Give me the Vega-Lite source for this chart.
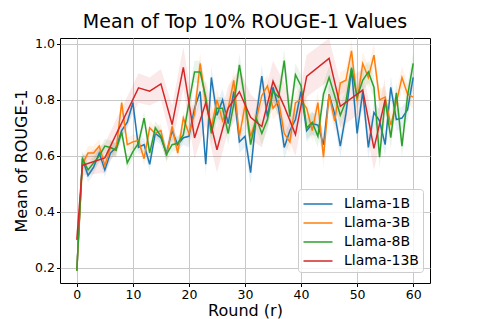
{
"$schema": "https://vega.github.io/schema/vega-lite/v6.json",
"width": 370, "height": 245,
"autosize": "none",
"padding": {"left": 60, "top": 38, "right": 48, "bottom": 36},
"config": {"font": "DejaVu Sans", "view": {"stroke": "#000", "strokeWidth": 1}},
"title": {"text": "Mean of Top 10% ROUGE-1 Values", "fontSize": 19, "fontWeight": "normal", "color": "#000", "offset": 6, "anchor": "middle"},
"data": {"values": [
{"m":"Llama-1B","r":0,"v":0.19,"lo":0.17,"hi":0.21},
{"m":"Llama-1B","r":1,"v":0.59,"lo":0.565,"hi":0.615},
{"m":"Llama-1B","r":2,"v":0.53,"lo":0.505,"hi":0.555},
{"m":"Llama-1B","r":3,"v":0.56,"lo":0.535,"hi":0.585},
{"m":"Llama-1B","r":4,"v":0.61,"lo":0.585,"hi":0.635},
{"m":"Llama-1B","r":5,"v":0.55,"lo":0.525,"hi":0.575},
{"m":"Llama-1B","r":6,"v":0.61,"lo":0.585,"hi":0.635},
{"m":"Llama-1B","r":7,"v":0.63,"lo":0.605,"hi":0.655},
{"m":"Llama-1B","r":8,"v":0.69,"lo":0.665,"hi":0.715},
{"m":"Llama-1B","r":9,"v":0.72,"lo":0.695,"hi":0.745},
{"m":"Llama-1B","r":10,"v":0.79,"lo":0.765,"hi":0.815},
{"m":"Llama-1B","r":11,"v":0.63,"lo":0.605,"hi":0.655},
{"m":"Llama-1B","r":12,"v":0.64,"lo":0.615,"hi":0.665},
{"m":"Llama-1B","r":13,"v":0.57,"lo":0.545,"hi":0.595},
{"m":"Llama-1B","r":14,"v":0.68,"lo":0.655,"hi":0.705},
{"m":"Llama-1B","r":15,"v":0.665,"lo":0.64,"hi":0.69},
{"m":"Llama-1B","r":16,"v":0.61,"lo":0.585,"hi":0.635},
{"m":"Llama-1B","r":17,"v":0.69,"lo":0.665,"hi":0.715},
{"m":"Llama-1B","r":18,"v":0.64,"lo":0.615,"hi":0.665},
{"m":"Llama-1B","r":19,"v":0.665,"lo":0.64,"hi":0.69},
{"m":"Llama-1B","r":20,"v":0.67,"lo":0.63,"hi":0.71},
{"m":"Llama-1B","r":21,"v":0.77,"lo":0.73,"hi":0.81},
{"m":"Llama-1B","r":22,"v":0.83,"lo":0.79,"hi":0.87},
{"m":"Llama-1B","r":23,"v":0.57,"lo":0.53,"hi":0.61},
{"m":"Llama-1B","r":24,"v":0.88,"lo":0.84,"hi":0.92},
{"m":"Llama-1B","r":25,"v":0.745,"lo":0.705,"hi":0.785},
{"m":"Llama-1B","r":26,"v":0.80,"lo":0.76,"hi":0.84},
{"m":"Llama-1B","r":27,"v":0.715,"lo":0.675,"hi":0.755},
{"m":"Llama-1B","r":28,"v":0.83,"lo":0.79,"hi":0.87},
{"m":"Llama-1B","r":29,"v":0.65,"lo":0.61,"hi":0.69},
{"m":"Llama-1B","r":30,"v":0.67,"lo":0.63,"hi":0.71},
{"m":"Llama-1B","r":31,"v":0.54,"lo":0.50,"hi":0.58},
{"m":"Llama-1B","r":32,"v":0.74,"lo":0.70,"hi":0.78},
{"m":"Llama-1B","r":33,"v":0.885,"lo":0.845,"hi":0.925},
{"m":"Llama-1B","r":34,"v":0.74,"lo":0.70,"hi":0.78},
{"m":"Llama-1B","r":35,"v":0.845,"lo":0.805,"hi":0.885},
{"m":"Llama-1B","r":36,"v":0.77,"lo":0.73,"hi":0.81},
{"m":"Llama-1B","r":37,"v":0.63,"lo":0.59,"hi":0.67},
{"m":"Llama-1B","r":38,"v":0.69,"lo":0.65,"hi":0.73},
{"m":"Llama-1B","r":39,"v":0.73,"lo":0.69,"hi":0.77},
{"m":"Llama-1B","r":40,"v":0.83,"lo":0.79,"hi":0.87},
{"m":"Llama-1B","r":41,"v":0.69,"lo":0.65,"hi":0.73},
{"m":"Llama-1B","r":42,"v":0.715,"lo":0.675,"hi":0.755},
{"m":"Llama-1B","r":43,"v":0.71,"lo":0.67,"hi":0.75},
{"m":"Llama-1B","r":44,"v":0.64,"lo":0.60,"hi":0.68},
{"m":"Llama-1B","r":45,"v":0.82,"lo":0.78,"hi":0.86},
{"m":"Llama-1B","r":46,"v":0.75,"lo":0.71,"hi":0.79},
{"m":"Llama-1B","r":47,"v":0.635,"lo":0.595,"hi":0.675},
{"m":"Llama-1B","r":48,"v":0.75,"lo":0.71,"hi":0.79},
{"m":"Llama-1B","r":49,"v":0.91,"lo":0.87,"hi":0.95},
{"m":"Llama-1B","r":50,"v":0.68,"lo":0.64,"hi":0.72},
{"m":"Llama-1B","r":51,"v":0.83,"lo":0.79,"hi":0.87},
{"m":"Llama-1B","r":52,"v":0.63,"lo":0.59,"hi":0.67},
{"m":"Llama-1B","r":53,"v":0.755,"lo":0.715,"hi":0.795},
{"m":"Llama-1B","r":54,"v":0.725,"lo":0.685,"hi":0.765},
{"m":"Llama-1B","r":55,"v":0.64,"lo":0.60,"hi":0.68},
{"m":"Llama-1B","r":56,"v":0.845,"lo":0.805,"hi":0.885},
{"m":"Llama-1B","r":57,"v":0.73,"lo":0.69,"hi":0.77},
{"m":"Llama-1B","r":58,"v":0.735,"lo":0.695,"hi":0.775},
{"m":"Llama-1B","r":59,"v":0.765,"lo":0.725,"hi":0.805},
{"m":"Llama-1B","r":60,"v":0.88,"lo":0.84,"hi":0.92},
{"m":"Llama-3B","r":0,"v":0.19,"lo":0.17,"hi":0.21},
{"m":"Llama-3B","r":1,"v":0.57,"lo":0.545,"hi":0.595},
{"m":"Llama-3B","r":2,"v":0.61,"lo":0.585,"hi":0.635},
{"m":"Llama-3B","r":3,"v":0.61,"lo":0.585,"hi":0.635},
{"m":"Llama-3B","r":4,"v":0.635,"lo":0.61,"hi":0.66},
{"m":"Llama-3B","r":5,"v":0.565,"lo":0.54,"hi":0.59},
{"m":"Llama-3B","r":6,"v":0.63,"lo":0.605,"hi":0.655},
{"m":"Llama-3B","r":7,"v":0.62,"lo":0.595,"hi":0.645},
{"m":"Llama-3B","r":8,"v":0.79,"lo":0.765,"hi":0.815},
{"m":"Llama-3B","r":9,"v":0.64,"lo":0.615,"hi":0.665},
{"m":"Llama-3B","r":10,"v":0.65,"lo":0.625,"hi":0.675},
{"m":"Llama-3B","r":11,"v":0.655,"lo":0.63,"hi":0.68},
{"m":"Llama-3B","r":12,"v":0.59,"lo":0.565,"hi":0.615},
{"m":"Llama-3B","r":13,"v":0.70,"lo":0.675,"hi":0.725},
{"m":"Llama-3B","r":14,"v":0.68,"lo":0.655,"hi":0.705},
{"m":"Llama-3B","r":15,"v":0.69,"lo":0.665,"hi":0.715},
{"m":"Llama-3B","r":16,"v":0.60,"lo":0.575,"hi":0.625},
{"m":"Llama-3B","r":17,"v":0.705,"lo":0.68,"hi":0.73},
{"m":"Llama-3B","r":18,"v":0.61,"lo":0.585,"hi":0.635},
{"m":"Llama-3B","r":19,"v":0.735,"lo":0.71,"hi":0.76},
{"m":"Llama-3B","r":20,"v":0.68,"lo":0.64,"hi":0.72},
{"m":"Llama-3B","r":21,"v":0.75,"lo":0.71,"hi":0.79},
{"m":"Llama-3B","r":22,"v":0.93,"lo":0.89,"hi":0.97},
{"m":"Llama-3B","r":23,"v":0.79,"lo":0.75,"hi":0.83},
{"m":"Llama-3B","r":24,"v":0.70,"lo":0.66,"hi":0.74},
{"m":"Llama-3B","r":25,"v":0.80,"lo":0.76,"hi":0.84},
{"m":"Llama-3B","r":26,"v":0.725,"lo":0.685,"hi":0.765},
{"m":"Llama-3B","r":27,"v":0.77,"lo":0.73,"hi":0.81},
{"m":"Llama-3B","r":28,"v":0.87,"lo":0.83,"hi":0.91},
{"m":"Llama-3B","r":29,"v":0.67,"lo":0.63,"hi":0.71},
{"m":"Llama-3B","r":30,"v":0.78,"lo":0.74,"hi":0.82},
{"m":"Llama-3B","r":31,"v":0.67,"lo":0.63,"hi":0.71},
{"m":"Llama-3B","r":32,"v":0.73,"lo":0.69,"hi":0.77},
{"m":"Llama-3B","r":33,"v":0.815,"lo":0.775,"hi":0.855},
{"m":"Llama-3B","r":34,"v":0.85,"lo":0.81,"hi":0.89},
{"m":"Llama-3B","r":35,"v":0.77,"lo":0.73,"hi":0.81},
{"m":"Llama-3B","r":36,"v":0.795,"lo":0.755,"hi":0.835},
{"m":"Llama-3B","r":37,"v":0.68,"lo":0.64,"hi":0.72},
{"m":"Llama-3B","r":38,"v":0.65,"lo":0.61,"hi":0.69},
{"m":"Llama-3B","r":39,"v":0.79,"lo":0.75,"hi":0.83},
{"m":"Llama-3B","r":40,"v":0.80,"lo":0.76,"hi":0.84},
{"m":"Llama-3B","r":41,"v":0.77,"lo":0.73,"hi":0.81},
{"m":"Llama-3B","r":42,"v":0.69,"lo":0.65,"hi":0.73},
{"m":"Llama-3B","r":43,"v":0.79,"lo":0.75,"hi":0.83},
{"m":"Llama-3B","r":44,"v":0.595,"lo":0.555,"hi":0.635},
{"m":"Llama-3B","r":45,"v":0.82,"lo":0.78,"hi":0.86},
{"m":"Llama-3B","r":46,"v":0.725,"lo":0.685,"hi":0.765},
{"m":"Llama-3B","r":47,"v":0.86,"lo":0.82,"hi":0.90},
{"m":"Llama-3B","r":48,"v":0.87,"lo":0.83,"hi":0.91},
{"m":"Llama-3B","r":49,"v":0.975,"lo":0.935,"hi":1.015},
{"m":"Llama-3B","r":50,"v":0.795,"lo":0.755,"hi":0.835},
{"m":"Llama-3B","r":51,"v":0.93,"lo":0.89,"hi":0.97},
{"m":"Llama-3B","r":52,"v":0.88,"lo":0.84,"hi":0.92},
{"m":"Llama-3B","r":53,"v":0.96,"lo":0.92,"hi":1.0},
{"m":"Llama-3B","r":54,"v":0.80,"lo":0.76,"hi":0.84},
{"m":"Llama-3B","r":55,"v":0.81,"lo":0.77,"hi":0.85},
{"m":"Llama-3B","r":56,"v":0.71,"lo":0.67,"hi":0.75},
{"m":"Llama-3B","r":57,"v":0.79,"lo":0.75,"hi":0.83},
{"m":"Llama-3B","r":58,"v":0.88,"lo":0.84,"hi":0.92},
{"m":"Llama-3B","r":59,"v":0.82,"lo":0.78,"hi":0.86},
{"m":"Llama-3B","r":60,"v":0.81,"lo":0.77,"hi":0.85},
{"m":"Llama-8B","r":0,"v":0.19,"lo":0.17,"hi":0.21},
{"m":"Llama-8B","r":1,"v":0.59,"lo":0.565,"hi":0.615},
{"m":"Llama-8B","r":2,"v":0.55,"lo":0.525,"hi":0.575},
{"m":"Llama-8B","r":3,"v":0.575,"lo":0.55,"hi":0.60},
{"m":"Llama-8B","r":4,"v":0.60,"lo":0.575,"hi":0.625},
{"m":"Llama-8B","r":5,"v":0.635,"lo":0.61,"hi":0.66},
{"m":"Llama-8B","r":6,"v":0.63,"lo":0.605,"hi":0.655},
{"m":"Llama-8B","r":7,"v":0.62,"lo":0.595,"hi":0.645},
{"m":"Llama-8B","r":8,"v":0.685,"lo":0.66,"hi":0.71},
{"m":"Llama-8B","r":9,"v":0.575,"lo":0.55,"hi":0.60},
{"m":"Llama-8B","r":10,"v":0.615,"lo":0.59,"hi":0.64},
{"m":"Llama-8B","r":11,"v":0.645,"lo":0.62,"hi":0.67},
{"m":"Llama-8B","r":12,"v":0.735,"lo":0.71,"hi":0.76},
{"m":"Llama-8B","r":13,"v":0.61,"lo":0.585,"hi":0.635},
{"m":"Llama-8B","r":14,"v":0.70,"lo":0.675,"hi":0.725},
{"m":"Llama-8B","r":15,"v":0.67,"lo":0.645,"hi":0.695},
{"m":"Llama-8B","r":16,"v":0.605,"lo":0.58,"hi":0.63},
{"m":"Llama-8B","r":17,"v":0.64,"lo":0.615,"hi":0.665},
{"m":"Llama-8B","r":18,"v":0.645,"lo":0.62,"hi":0.67},
{"m":"Llama-8B","r":19,"v":0.675,"lo":0.65,"hi":0.70},
{"m":"Llama-8B","r":20,"v":0.79,"lo":0.75,"hi":0.83},
{"m":"Llama-8B","r":21,"v":0.90,"lo":0.86,"hi":0.94},
{"m":"Llama-8B","r":22,"v":0.90,"lo":0.86,"hi":0.94},
{"m":"Llama-8B","r":23,"v":0.81,"lo":0.77,"hi":0.85},
{"m":"Llama-8B","r":24,"v":0.68,"lo":0.64,"hi":0.72},
{"m":"Llama-8B","r":25,"v":0.77,"lo":0.73,"hi":0.81},
{"m":"Llama-8B","r":26,"v":0.77,"lo":0.73,"hi":0.81},
{"m":"Llama-8B","r":27,"v":0.68,"lo":0.64,"hi":0.72},
{"m":"Llama-8B","r":28,"v":0.785,"lo":0.745,"hi":0.825},
{"m":"Llama-8B","r":29,"v":0.925,"lo":0.885,"hi":0.965},
{"m":"Llama-8B","r":30,"v":0.80,"lo":0.76,"hi":0.84},
{"m":"Llama-8B","r":31,"v":0.64,"lo":0.60,"hi":0.68},
{"m":"Llama-8B","r":32,"v":0.735,"lo":0.695,"hi":0.775},
{"m":"Llama-8B","r":33,"v":0.68,"lo":0.64,"hi":0.72},
{"m":"Llama-8B","r":34,"v":0.73,"lo":0.69,"hi":0.77},
{"m":"Llama-8B","r":35,"v":0.83,"lo":0.79,"hi":0.87},
{"m":"Llama-8B","r":36,"v":0.81,"lo":0.77,"hi":0.85},
{"m":"Llama-8B","r":37,"v":0.94,"lo":0.90,"hi":0.98},
{"m":"Llama-8B","r":38,"v":0.74,"lo":0.70,"hi":0.78},
{"m":"Llama-8B","r":39,"v":0.89,"lo":0.85,"hi":0.93},
{"m":"Llama-8B","r":40,"v":0.85,"lo":0.81,"hi":0.89},
{"m":"Llama-8B","r":41,"v":0.70,"lo":0.66,"hi":0.74},
{"m":"Llama-8B","r":42,"v":0.72,"lo":0.68,"hi":0.76},
{"m":"Llama-8B","r":43,"v":0.67,"lo":0.63,"hi":0.71},
{"m":"Llama-8B","r":44,"v":0.82,"lo":0.78,"hi":0.86},
{"m":"Llama-8B","r":45,"v":0.88,"lo":0.84,"hi":0.92},
{"m":"Llama-8B","r":46,"v":0.815,"lo":0.775,"hi":0.855},
{"m":"Llama-8B","r":47,"v":0.745,"lo":0.705,"hi":0.785},
{"m":"Llama-8B","r":48,"v":0.795,"lo":0.755,"hi":0.835},
{"m":"Llama-8B","r":49,"v":0.915,"lo":0.875,"hi":0.955},
{"m":"Llama-8B","r":50,"v":0.81,"lo":0.77,"hi":0.85},
{"m":"Llama-8B","r":51,"v":0.87,"lo":0.83,"hi":0.91},
{"m":"Llama-8B","r":52,"v":0.90,"lo":0.86,"hi":0.94},
{"m":"Llama-8B","r":53,"v":0.845,"lo":0.805,"hi":0.885},
{"m":"Llama-8B","r":54,"v":0.595,"lo":0.555,"hi":0.635},
{"m":"Llama-8B","r":55,"v":0.80,"lo":0.76,"hi":0.84},
{"m":"Llama-8B","r":56,"v":0.665,"lo":0.625,"hi":0.705},
{"m":"Llama-8B","r":57,"v":0.825,"lo":0.785,"hi":0.865},
{"m":"Llama-8B","r":58,"v":0.635,"lo":0.595,"hi":0.675},
{"m":"Llama-8B","r":59,"v":0.815,"lo":0.775,"hi":0.855},
{"m":"Llama-8B","r":60,"v":0.93,"lo":0.89,"hi":0.97},
{"m":"Llama-13B","r":0,"v":0.30,"lo":0.27,"hi":0.33},
{"m":"Llama-13B","r":1,"v":0.566,"lo":0.53,"hi":0.60},
{"m":"Llama-13B","r":5,"v":0.593,"lo":0.54,"hi":0.645},
{"m":"Llama-13B","r":11,"v":0.843,"lo":0.79,"hi":0.895},
{"m":"Llama-13B","r":13,"v":0.831,"lo":0.78,"hi":0.88},
{"m":"Llama-13B","r":15,"v":0.857,"lo":0.80,"hi":0.91},
{"m":"Llama-13B","r":17,"v":0.712,"lo":0.64,"hi":0.78},
{"m":"Llama-13B","r":19,"v":0.916,"lo":0.84,"hi":0.99},
{"m":"Llama-13B","r":21,"v":0.664,"lo":0.59,"hi":0.74},
{"m":"Llama-13B","r":23,"v":0.79,"lo":0.71,"hi":0.87},
{"m":"Llama-13B","r":25,"v":0.622,"lo":0.54,"hi":0.70},
{"m":"Llama-13B","r":27,"v":0.771,"lo":0.69,"hi":0.85},
{"m":"Llama-13B","r":29,"v":0.829,"lo":0.75,"hi":0.91},
{"m":"Llama-13B","r":31,"v":0.738,"lo":0.66,"hi":0.82},
{"m":"Llama-13B","r":33,"v":0.705,"lo":0.63,"hi":0.78},
{"m":"Llama-13B","r":35,"v":0.866,"lo":0.79,"hi":0.94},
{"m":"Llama-13B","r":37,"v":0.777,"lo":0.70,"hi":0.86},
{"m":"Llama-13B","r":39,"v":0.676,"lo":0.60,"hi":0.75},
{"m":"Llama-13B","r":41,"v":0.884,"lo":0.81,"hi":0.96},
{"m":"Llama-13B","r":45,"v":0.948,"lo":0.87,"hi":1.02},
{"m":"Llama-13B","r":47,"v":0.777,"lo":0.70,"hi":0.86},
{"m":"Llama-13B","r":51,"v":0.835,"lo":0.76,"hi":0.91},
{"m":"Llama-13B","r":53,"v":0.627,"lo":0.55,"hi":0.70},
{"m":"Llama-13B","r":55,"v":0.801,"lo":0.72,"hi":0.88}
]},
"encoding": {
  "x": {"field": "r", "type": "quantitative",
        "scale": {"domain": [-3, 63], "nice": false, "zero": false},
        "axis": {"values": [0, 10, 20, 30, 40, 50, 60], "title": "Round (r)", "titleFontSize": 16, "titleFontWeight": "normal", "titleColor": "#000", "titlePadding": 1,
                 "labelFontSize": 12.5, "labelColor": "#000", "labelPadding": 2, "tickSize": 3.5, "tickColor": "#000", "domain": false,
                 "grid": true, "gridColor": "#c8c8c8", "gridWidth": 1}},
  "color": {"field": "m", "type": "nominal",
            "scale": {"domain": ["Llama-1B", "Llama-3B", "Llama-8B", "Llama-13B"], "range": ["#1f77b4", "#ff7f0e", "#2ca02c", "#d62728"]},
            "legend": {"title": null, "orient": "none", "legendX": 238, "legendY": 151, "padding": 4,
                       "symbolType": "M-1.45,0H1.45", "symbolSize": 400, "symbolStrokeWidth": 1.5, "symbolOffset": 5, "symbolOpacity": 1,
                       "labelFontSize": 14, "labelColor": "#000", "labelOffset": 15, "rowPadding": 1,
                       "fillColor": "rgba(255,255,255,0.8)", "strokeColor": "#cccccc", "cornerRadius": 3}}
},
"layer": [
  {"mark": {"type": "area", "opacity": 0.1, "clip": true},
   "encoding": {
     "y": {"field": "lo", "type": "quantitative"},
     "y2": {"field": "hi"}
   }},
  {"mark": {"type": "line", "strokeWidth": 1.5, "clip": true},
   "encoding": {
     "y": {"field": "v", "type": "quantitative",
           "scale": {"domain": [0.146, 1.021], "nice": false, "zero": false},
           "axis": {"values": [0.2, 0.3, 0.4, 0.5, 0.6, 0.7, 0.8, 0.9, 1.0], "format": ".1f", "title": "Mean of ROUGE-1", "titleFontSize": 16, "titleFontWeight": "normal", "titleColor": "#000", "titlePadding": 5,
                    "labelFontSize": 12.5, "labelColor": "#000", "labelPadding": 2, "tickSize": 3.5, "tickColor": "#000", "domain": false,
                    "grid": true, "gridColor": "#c8c8c8", "gridWidth": 1}}
   }}
]
}
